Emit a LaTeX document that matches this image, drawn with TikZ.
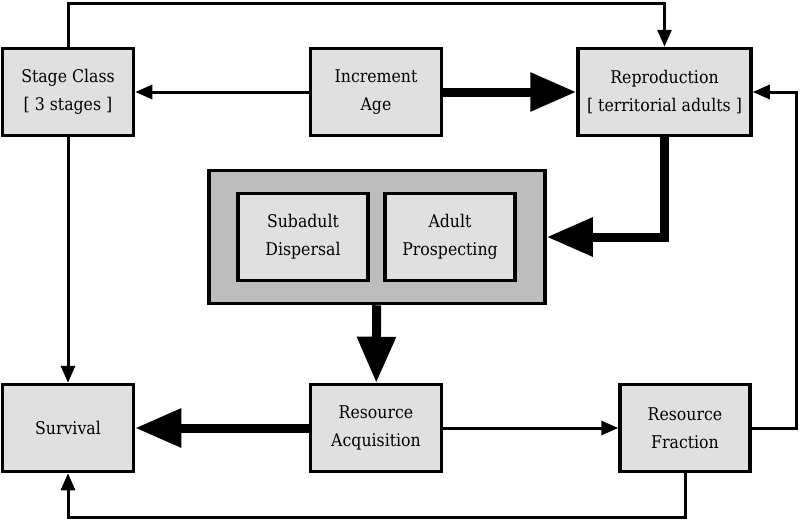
\documentclass[tikz,border=0pt]{standalone}
\usepackage{fontspec}
\setmainfont{DejaVu Serif Condensed}
\usetikzlibrary{arrows.meta}
\definecolor{boxgray}{HTML}{E0E0E0}
\definecolor{groupgray}{HTML}{BDBDBD}
\begin{document}
\begin{tikzpicture}[x=1pt, y=-1pt,
	main/.style = {draw, line width=3.5pt, fill=boxgray, minimum width=131pt, minimum height=87pt, align=center, font=\fontsize{17.5}{28}\selectfont},
	group/.style = {draw, line width=3.5pt, fill=groupgray, minimum width=336pt, minimum height=133pt},
	link/.style = {line width=3pt, -{Triangle[length=17pt,width=14pt]}},
	flow/.style = {line width=9pt, -{Triangle[length=46pt,width=37pt]}}]
		\useasboundingbox (0,0) rectangle (800,520);
		\node[group] (move) at (377,237) {};
		\node[main, minimum width=130pt] (sub) at (303,237) {Subadult\\Dispersal};
		\node[main, minimum width=130pt] (pros) at (450,237) {Adult\\Prospecting};
		\node[main] (stage) at (68,92) {Stage Class\\{[} 3 stages ]};
		\node[main] (age) at (376,92) {Increment\\Age};
		\node[main, minimum width=173pt] (repro) at (664.5,92) {Reproduction\\{[} territorial adults ]};
		\node[main] (surv) at (68,428) {Survival};
		\node[main] (acq) at (376,428) {Resource\\Acquisition};
		\node[main, minimum width=130pt] (frac) at (685,428) {Resource\\Fraction};
		\draw[link] (stage.north) -- (stage.north |- 0,3) -| (repro.north);
		\draw[link] (age) -- (stage);
		\draw[flow] (age) -- (repro);
		\draw[flow] (repro.south) |- (move.east);
		\draw[flow] (move) -- (acq);
		\draw[link] (stage) -- (surv);
		\draw[flow] (acq) -- (surv);
		\draw[link] (acq) -- (frac);
		\draw[link] (frac.east) -- ++(45,0) |- (repro.east);
		\draw[link] (frac.south) -- ++(0,44) -| (surv.south);
	\end{tikzpicture}
\end{document}
